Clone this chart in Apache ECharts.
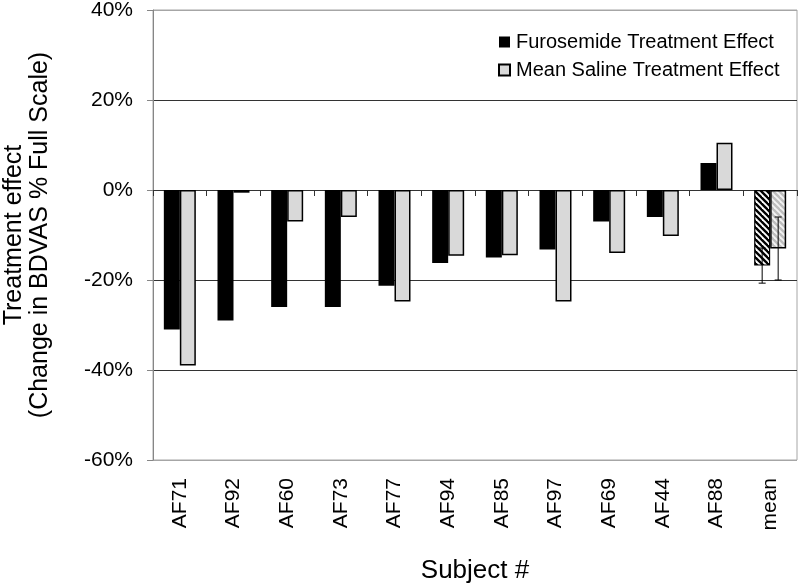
<!DOCTYPE html>
<html>
<head>
<meta charset="utf-8">
<script src="https://cdn.jsdelivr.net/npm/echarts@6/dist/echarts.min.js"></script>
<style>
html,body{margin:0;padding:0;background:#fff;}
#chart{width:800px;height:585px;}
</style>
</head>
<body>
<div id="chart"></div>
<script>
// ---- data ----
var subjects = ['AF71','AF92','AF60','AF73','AF77','AF94','AF85','AF97','AF69','AF44','AF88','mean'];
var furosemide = [-31, -29, -26, -26, -21.3, -16.2, -15, -13.2, -7, -6, 6, -16.8];
var saline = [-39, -0.6, -7, -6, -24.8, -14.6, -14.5, -24.8, -14, -10.2, 10.5, -13.0];
var meanErrors = [3.9, 7.0]; // furosemide, saline (mean column)
var yTicks = [-60, -40, -20, 0, 20, 40];
var seriesNames = ['Furosemide Treatment Effect', 'Mean Saline Treatment Effect'];

var FONT = '"Liberation Sans", Arial, sans-serif';
var BAR_W = 16;

function hatch(fg, bg) {
  var s = 6;
  var c = document.createElement('canvas');
  c.width = s; c.height = s;
  var ctx = c.getContext('2d');
  ctx.fillStyle = bg; ctx.fillRect(0, 0, s, s);
  ctx.strokeStyle = fg; ctx.lineWidth = 2.4;
  for (var k = -1; k <= 1; k++) {
    ctx.beginPath();
    ctx.moveTo(k * s - 1, -1);
    ctx.lineTo(k * s + s + 1, s + 1);
    ctx.stroke();
  }
  return { image: c, repeat: 'repeat' };
}

var lastIdx = subjects.length - 1;
var furoData = furosemide.map(function (v, i) {
  if (i === lastIdx) return { value: v, itemStyle: { color: hatch('#000', '#fff'), borderColor: '#000', borderWidth: 1.2 } };
  return v;
});
var salineData = saline.map(function (v, i) {
  if (i === lastIdx) return { value: v, itemStyle: { color: hatch('#bdbdbd', '#f2f2f2') } };
  return v;
});
var errData = [
  [lastIdx, furosemide[lastIdx], meanErrors[0], -1],
  [lastIdx, saline[lastIdx], meanErrors[1], 1]
];

var chart = echarts.init(document.getElementById('chart'));
chart.setOption({
  animation: false,
  textStyle: { fontFamily: FONT, color: '#000' },
  grid: { left: 153, right: 3, top: 10, bottom: 125, show: true, borderColor: '#a6a6a6', borderWidth: 1,
          containLabel: false, outerBoundsMode: 'none' },
  legend: {
    data: seriesNames,
    orient: 'vertical',
    left: 493, top: 27,
    itemWidth: 11, itemHeight: 11, itemGap: 8,
    icon: 'rect',
    textStyle: { fontFamily: FONT, fontSize: 20, color: '#000', padding: [0, 0, 0, 1] }
  },
  xAxis: [{
    type: 'category',
    data: subjects,
    position: 'bottom',
    axisLine: { show: false, onZero: false },
    axisTick: { show: false },
    axisLabel: { rotate: 90, margin: 18, fontSize: 21, color: '#000', fontFamily: FONT },
    name: 'Subject #',
    nameLocation: 'middle',
    nameGap: 98,
    nameTextStyle: { fontSize: 26, color: '#000', fontFamily: FONT }
  }, {
    type: 'category',
    data: subjects,
    position: 'top',
    axisLine: { show: true, onZero: true, lineStyle: { color: '#333', width: 1 } },
    axisTick: { show: true, inside: true, length: 6, lineStyle: { color: '#333' } },
    axisLabel: { show: false },
    splitLine: { show: false }
  }],
  yAxis: {
    type: 'value',
    min: yTicks[0], max: yTicks[yTicks.length - 1], interval: 20,
    axisLine: { show: true, lineStyle: { color: '#868686' } },
    axisTick: { show: true, length: 6, lineStyle: { color: '#868686' } },
    axisLabel: { formatter: '{value}%', fontSize: 21, color: '#000', margin: 20, fontFamily: FONT },
    splitLine: { show: true, lineStyle: { color: ['#a6a6a6', '#333', '#333', '#333', '#333', '#a6a6a6'], width: 1 } },
    name: 'Treatment effect\n(Change in BDVAS % Full Scale)',
    nameLocation: 'middle',
    nameGap: 100,
    nameTextStyle: { fontSize: 25, lineHeight: 26, color: '#000', fontFamily: FONT }
  },
  series: [{
    name: seriesNames[0],
    type: 'bar',
    xAxisIndex: 0,
    barWidth: BAR_W,
    barGap: '0%',
    itemStyle: { color: '#000' },
    data: furoData
  }, {
    name: seriesNames[1],
    type: 'bar',
    xAxisIndex: 0,
    barWidth: BAR_W,
    barGap: '0%',
    itemStyle: { color: '#d9d9d9', borderColor: '#000', borderWidth: 1.5 },
    data: salineData
  }, {
    type: 'custom',
    xAxisIndex: 0,
    z: 5,
    encode: { x: 0, y: 1 },
    data: errData,
    renderItem: function (params, api) {
      var idx = api.value(0), v = api.value(1), e = api.value(2), side = api.value(3);
      var c = api.coord([idx, v]);
      var x = c[0] + side * BAR_W / 2;
      var yTop = api.coord([idx, v + e])[1];
      var yBot = api.coord([idx, v - e])[1];
      var cap = 3.5;
      var st = { stroke: '#000', lineWidth: 1 };
      return {
        type: 'group',
        children: [
          { type: 'line', shape: { x1: x, y1: yTop, x2: x, y2: yBot }, style: st },
          { type: 'line', shape: { x1: x - cap, y1: yTop, x2: x + cap, y2: yTop }, style: st },
          { type: 'line', shape: { x1: x - cap, y1: yBot, x2: x + cap, y2: yBot }, style: st }
        ]
      };
    }
  }]
});
</script>
</body>
</html>
